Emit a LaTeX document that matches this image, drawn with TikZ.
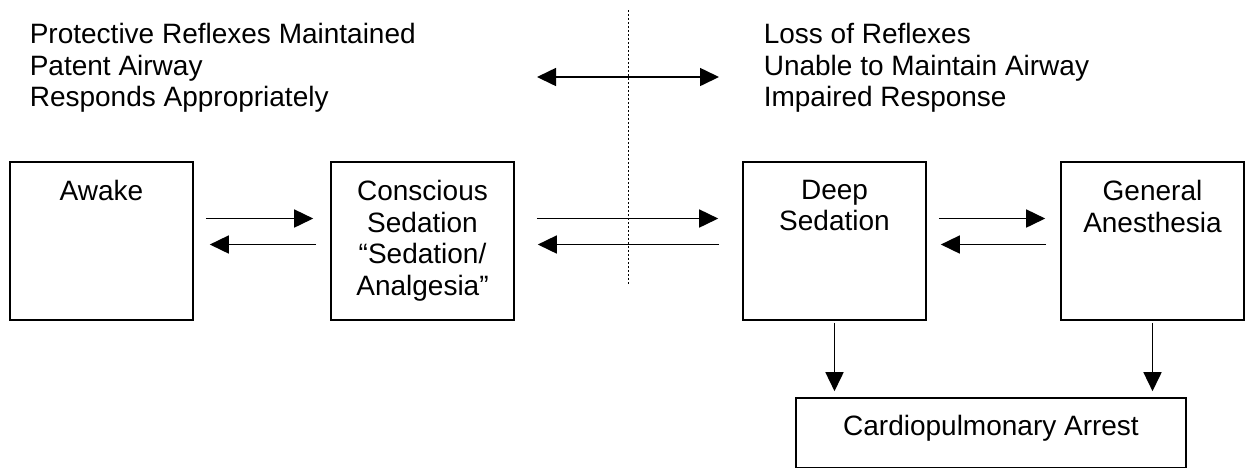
\documentclass[tikz,border=0pt]{standalone}
\usepackage{fontspec}
\setmainfont{Liberation Sans}
\usetikzlibrary{arrows.meta}

\begin{document}
\begin{tikzpicture}[->,>={Triangle[length=9.5pt,width=9pt]}
  ,x=0.5pt,y=-0.5pt
  ,line width=0.8pt
  ,font=\fontsize{14}{15.85}\selectfont]
  \tikzstyle{level}=[draw,-,minimum width=91.5pt,minimum height=79pt,inner sep=0pt]
  \tikzstyle{leveltext}=[anchor=north,yshift=-9pt,align=center,inner sep=0pt]
  \tikzstyle{sidetext}=[anchor=north west,align=left,inner sep=0pt]

  \useasboundingbox (0,0) rectangle (1245,468);

  % both sides of the divide
  \node[sidetext] (keep) at (29,22.5) {Protective Reflexes Maintained\\Patent Airway\\Responds Appropriately};
  \node[sidetext] (lose) at (763,22.5) {Loss of Reflexes\\Unable to Maintain Airway\\Impaired Response};

  % 4 levels top row
  \node[level,label={[leveltext]north:Awake}] (aw) at (101.5,241) {};
  \node[level,label={[leveltext]north:{Conscious\\Sedation\\“Sedation/\\Analgesia”}}] (cs) at (422.5,241) {};
  \node[level,label={[leveltext]north:{Deep\\Sedation}}] (ds) at (834.5,241) {};
  \node[level,label={[leveltext]north:{General\\Anesthesia}}] (ga) at (1152.5,241) {};
  % arrest btm
  \node[level,minimum width=195pt,minimum height=34.75pt
    ,label={[leveltext,yshift=0.5pt]north:Cardiopulmonary Arrest}] (cpa) at (991,432.75) {};

  \coordinate (divtop) at (628,10);
  \coordinate (divbtm) at (628,285);
  \coordinate (spanl) at (537,77);
  \coordinate (spanr) at (719,77);

  \draw[-,line width=0.4pt,dash pattern=on 1pt off 1pt] (divtop) -- (divbtm);
  \draw[<->] (spanl) -- (spanr);

  \path
  ([yshift=11.25pt]aw.east) edge[shorten <=6pt,shorten >=8.5pt] ([yshift=11.25pt]cs.west)
  ([yshift=-1.75pt]cs.west) edge[shorten <=7pt,shorten >=8pt] ([yshift=-1.75pt]aw.east)
  ([yshift=11.25pt]cs.east) edge[shorten <=11pt,shorten >=12pt] ([yshift=11.25pt]ds.west)
  ([yshift=-1.75pt]ds.west) edge[shorten <=11.5pt,shorten >=11.5pt] ([yshift=-1.75pt]cs.east)
  ([yshift=11.25pt]ds.east) edge[shorten <=6pt,shorten >=7.5pt] ([yshift=11.25pt]ga.west)
  ([yshift=-1.75pt]ga.west) edge[shorten <=7pt,shorten >=7pt] ([yshift=-1.75pt]ds.east)
  (ds.south) edge[shorten <=1pt,shorten >=3pt] (ds.south |- cpa.north)
  (ga.south) edge[shorten <=1pt,shorten >=3pt] (ga.south |- cpa.north);

\end{tikzpicture}
\end{document}
